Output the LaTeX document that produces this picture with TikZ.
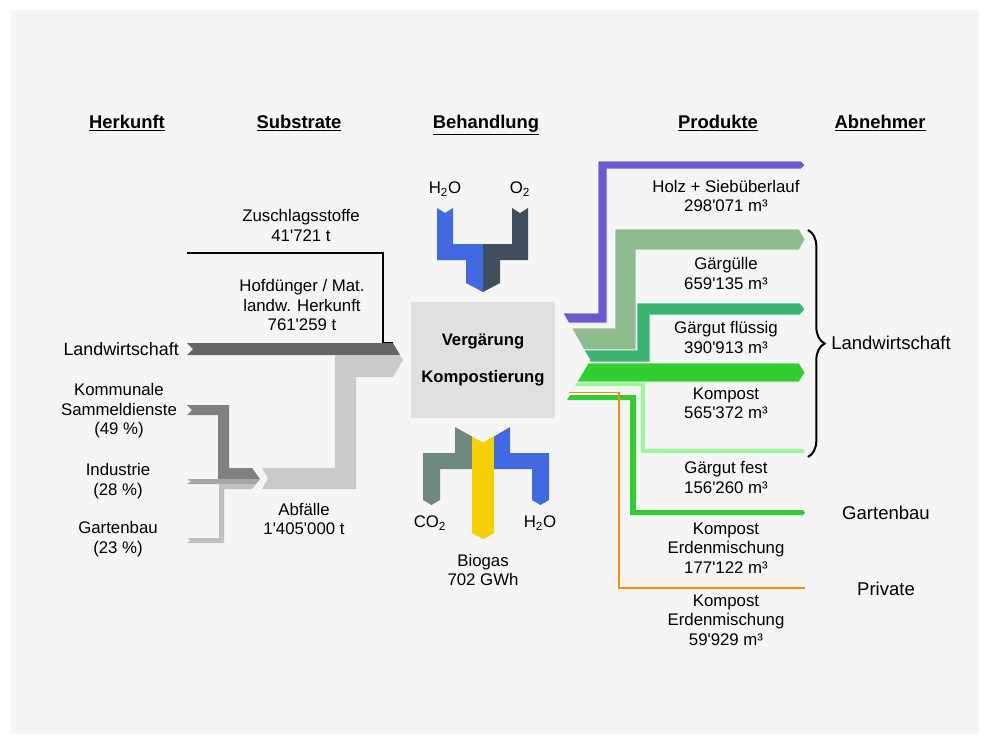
\documentclass[tikz,border=0pt]{standalone}
\usepackage{fontspec}
\setmainfont{Liberation Sans}[Ligatures=TeXOff]
\usetikzlibrary{decorations.pathreplacing}
\definecolor{bg}{HTML}{F5F5F5}
\definecolor{boxgray}{HTML}{E0E0E0}
\definecolor{landw}{HTML}{666666}
\definecolor{komm}{HTML}{808080}
\definecolor{indu}{HTML}{A6A6A6}
\definecolor{garten}{HTML}{C0C0C0}
\definecolor{abf}{HTML}{CACACA}
\definecolor{wblue}{HTML}{4169E1}
\definecolor{oslate}{HTML}{414E5E}
\definecolor{cogreen}{HTML}{6E8A80}
\definecolor{biogas}{HTML}{F5CF00}
\definecolor{holz}{HTML}{6A5ACD}
\definecolor{guelle}{HTML}{8FBC8F}
\definecolor{fluessig}{HTML}{3CB371}
\definecolor{kompost}{HTML}{32CD32}
\definecolor{fest}{HTML}{98FB98}
\definecolor{orangeline}{HTML}{FF8C00}
\begin{document}
\begin{tikzpicture}[x=0.75pt,y=-0.75pt,
  lbl/.style={font=\fontsize{12.6}{14.6}\selectfont, align=center, inner sep=0pt, text=black},
  biglbl/.style={font=\fontsize{13.9}{16}\selectfont, align=center, inner sep=0pt, text=black},
  hdr/.style={font=\bfseries\fontsize{13.8}{16}\selectfont, inner sep=0pt, anchor=base},
  band/.style={draw=white, line width=0.4pt},
  procbox/.style={fill=boxgray, minimum width=108pt, minimum height=87pt, inner sep=0pt, align=center,
    font=\bfseries\fontsize{12.5}{15}\selectfont}]
\useasboundingbox (0,0) rectangle (990,744);
\fill[white] (0,0) rectangle (990,744);
\fill[bg] (11,10) rectangle (979,734);

% headers
\node[hdr] (h1) at (127,128) {\underline{Herkunft}};
\node[hdr] (h2) at (299,128) {\underline{Substrate}};
\node[hdr] (h3) at (486,128) {\underline{Behandlung}};
\node[hdr] (h4) at (718,128) {\underline{Produkte}};
\node[hdr] (h5) at (880,128) {\underline{Abnehmer}};

% ---------- left side ----------
\draw[black, line width=1.1pt] (187,253) -- (383,253) -- (383,343) -- (393,343);
\fill[landw] (187,343) -- (193,349) -- (187,355) -- (400,355) -- (393,343) -- cycle;
\fill[abf] (335,355) -- (400,355) -- (403,360) -- (393,377) -- (356,377) -- (356,489)
  -- (262,489) -- (268,478.5) -- (262,468) -- (335,468) -- cycle;
\fill[komm] (187,405) -- (192,410) -- (187,415) -- (218,415) -- (218,479) -- (260,479)
  -- (252,468) -- (229,468) -- (229,405) -- cycle;
\fill[indu] (187,479) -- (191,481.5) -- (187,484) -- (256,484) -- (260,479) -- cycle;
\fill[garten] (187,538) -- (191,540.5) -- (187,543) -- (224,543) -- (224,489) -- (252,489)
  -- (256,484) -- (219,484) -- (219,538) -- cycle;

\node[lbl, font=\fontsize{13.4}{15}\selectfont, anchor=east] (lw) at (179,349) {Landwirtschaft};
\node[lbl] (kom) at (119,411) {Kommunale\\Sammeldienste\\(49 \%)};
\node[lbl] (ind) at (118,481) {Industrie\\(28 \%)};
\node[lbl] (gar) at (118,539) {Gartenbau\\(23 \%)};
\node[lbl] (zus) at (301,225.5) {Zuschlagsstoffe\\41'721 t};
\node[lbl] (hof) at (302,305) {Hofdünger / Mat.\\landw. Herkunft\\761'259 t};
\node[lbl] (abfl) at (304,519) {Abfälle\\1'405'000 t};

% ---------- treatment ----------
\node[procbox] (proc) at (483,360) {Vergärung\\[12.5pt]Kompostierung};

\fill[wblue] (437,208) -- (445,213) -- (453,208) -- (453,244) -- (483,244) -- (483,292)
  -- (466,283) -- (466,260) -- (437,260) -- cycle;
\fill[oslate] (512,208) -- (520,213) -- (528,208) -- (528,260) -- (500,260) -- (500,283)
  -- (483,292) -- (483,244) -- (512,244) -- cycle;
\node[lbl] (h2oin) at (445,189) {H\textsubscript{2}O};
\node[lbl] (o2in) at (520,189) {O\textsubscript{2}};

\fill[cogreen] (455,427) -- (472,436.5) -- (472,469) -- (440,469) -- (440,500) -- (431.5,505)
  -- (423,500) -- (423,453) -- (455,453) -- cycle;
\fill[biogas] (472,436.5) -- (483,442.5) -- (494,436.5) -- (494,533) -- (483,539) -- (472,533) -- cycle;
\fill[wblue] (494,436.5) -- (510,427) -- (510,453) -- (549,453) -- (549,500) -- (540.5,505)
  -- (532,500) -- (532,469) -- (494,469) -- cycle;
\node[lbl] (co2) at (430,523) {CO\textsubscript{2}};
\node[lbl] (h2oout) at (540,523) {H\textsubscript{2}O};
\node[lbl] (bio) at (483,570) {Biogas\\702 GWh};

% ---------- right side ----------
\fill[holz, band] (563,313) -- (598,313) -- (598,161) -- (801,161) -- (805,165) -- (801,169)
  -- (607,169) -- (607,323) -- (568.7,323) -- cycle;
\fill[guelle, band] (571.6,328) -- (615,328) -- (615,229) -- (799,229) -- (805,239.5) -- (799,250)
  -- (636,250) -- (636,350) -- (584,350) -- cycle;
\fill[fluessig, band] (584,350) -- (637,350) -- (637,303) -- (800,303) -- (805,309) -- (800,315)
  -- (650,315) -- (650,362) -- (588.8,362) -- (590,360) -- cycle;
\fill[kompost, band] (588.2,363) -- (799,363) -- (805,372.5) -- (799,382) -- (577,382) -- cycle;
\fill[fest] (577,382.5) -- (645,382.5) -- (645,449) -- (803,449) -- (805,451) -- (803,453)
  -- (641,453) -- (641,386) -- (575,386) -- cycle;
\fill[kompost] (570,395) -- (636,395) -- (636,510) -- (803,510) -- (805,512.5) -- (803,515)
  -- (630,515) -- (630,400) -- (567,400) -- cycle;
\draw[orangeline, line width=1.4pt] (569,392.5) -- (619,392.5) -- (619,588) -- (805,588);

\node[lbl] (p1) at (726,196) {Holz + Siebüberlauf\\298'071 m³};
\node[lbl] (p2) at (726,273.5) {Gärgülle\\659'135 m³};
\node[lbl] (p3) at (726,337.5) {Gärgut flüssig\\390'913 m³};
\node[lbl] (p4) at (726,403.5) {Kompost\\565'372 m³};
\node[lbl] (p5) at (726,477.5) {Gärgut fest\\156'260 m³};
\node[lbl] (p6) at (726,548) {Kompost\\Erdenmischung\\177'122 m³};
\node[lbl] (p7) at (726,620) {Kompost\\Erdenmischung\\59'929 m³};

\draw[decorate, decoration={brace, amplitude=12.5pt}, line width=1.5pt] (808,230) -- (808,457);
\node[biglbl, anchor=west] (a1) at (831,343) {Landwirtschaft};
\node[biglbl] (a2) at (886,513) {Gartenbau};
\node[biglbl] (a3) at (886,589) {Private};
\end{tikzpicture}
\end{document}
